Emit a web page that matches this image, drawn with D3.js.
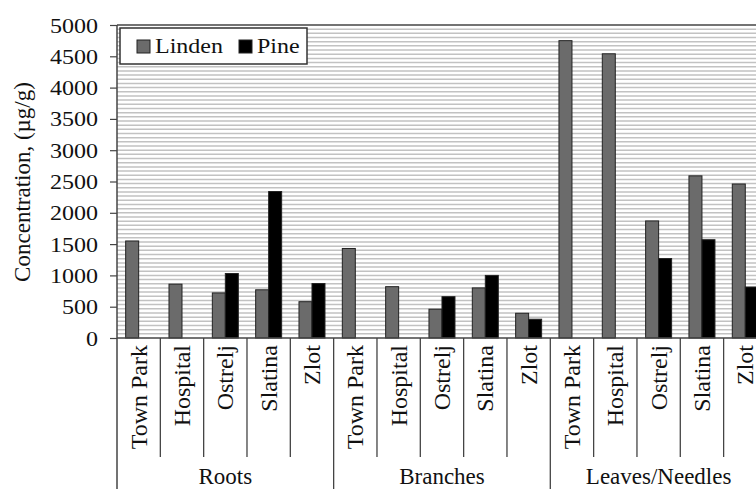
<!DOCTYPE html>
<html>
<head>
<meta charset="utf-8">
<script src="https://cdn.jsdelivr.net/npm/d3@7"></script>
<style>
  html, body { margin: 0; padding: 0; background: #fff; overflow: hidden; }
  svg { display: block; }
  text { font-family: "Liberation Serif", "Times New Roman", serif; fill: #111; }
</style>
</head>
<body>
<svg id="chart" width="756" height="489"></svg>
<script>
// ---- data ----
const groups = ["Roots", "Branches", "Leaves/Needles"];
const sites = ["Town Park", "Hospital", "Ostrelj", "Slatina", "Zlot"];
const series = ["Linden", "Pine"];
const lindenValues = [1550, 860, 720, 770, 580,   1430, 820, 460, 800, 395,   4750, 4540, 1870, 2590, 2460];
const pineValues   = [0, 0, 1030, 2340, 870,      0, 0, 660, 1000, 300,      0, 0, 1270, 1570, 815];
const yTicks = [0, 500, 1000, 1500, 2000, 2500, 3000, 3500, 4000, 4500, 5000];

const colors = { Linden: "#6b6b6b", Pine: "#000000" };

const svg = d3.select("#chart");
const plotLeft = 117, plotTop = 25, plotBottom = 338;
const catW = 43.33;
const plotRight = plotLeft + catW * groups.length * sites.length;

const cats = [];
groups.forEach((g, gi) => sites.forEach((s, si) => {
  const i = gi * sites.length + si;
  cats.push({ key: g + "|" + s, group: g, site: s, Linden: lindenValues[i], Pine: pineValues[i] });
}));

const x = d3.scaleBand().domain(cats.map(d => d.key)).range([plotLeft, plotRight]).padding(0);
const xs = d3.scaleBand().domain(series).range([x.bandwidth() * 0.2, x.bandwidth() * 0.8]).padding(0);
const y = d3.scaleLinear().domain([0, 5000]).range([plotBottom, plotTop]);

// gridlines
const gridVals = d3.range(1, 75).map(i => i * 5000 / 75);
svg.append("g").selectAll("line").data(gridVals).join("line")
  .attr("x1", plotLeft).attr("x2", plotRight)
  .attr("y1", d => y(d)).attr("y2", d => y(d))
  .attr("stroke", "#c2c2c2").attr("stroke-width", 1.5);

// top border
svg.append("line").attr("x1", plotLeft).attr("x2", plotRight).attr("y1", plotTop).attr("y2", plotTop)
  .attr("stroke", "#444").attr("stroke-width", 1.5);

// bars
const cg = svg.append("g").selectAll("g").data(cats).join("g")
  .attr("transform", d => `translate(${x(d.key)},0)`);
cg.selectAll("rect").data(d => series.map(s => ({ s, v: d[s] })).filter(e => e.v > 0)).join("rect")
  .attr("x", e => xs(e.s))
  .attr("width", xs.bandwidth())
  .attr("y", e => y(e.v))
  .attr("height", e => y(0) - y(e.v))
  .attr("fill", e => colors[e.s])
  .attr("stroke", "#222").attr("stroke-width", 1);

// y axis
const yAxis = d3.axisLeft(y).tickValues(yTicks).tickSize(7).tickSizeOuter(0).tickPadding(0).tickFormat(d3.format("d"));
const ya = svg.append("g").attr("transform", `translate(${plotLeft},0)`).call(yAxis);
ya.select(".domain").remove();
ya.selectAll(".tick line").attr("stroke", "#444").attr("stroke-width", 1.2);
ya.selectAll(".tick text").remove();
ya.selectAll(".tick").append("text")
  .attr("text-anchor", "end")
  .attr("transform", "translate(-19,7) scale(1.2,1)")
  .attr("font-size", 20)
  .attr("fill", "#111")
  .text(d => d);

svg.append("line").attr("x1", plotLeft).attr("x2", plotLeft).attr("y1", plotTop).attr("y2", 489)
  .attr("stroke", "#444").attr("stroke-width", 1.5);

// x axis line
svg.append("line").attr("x1", plotLeft).attr("x2", plotRight).attr("y1", plotBottom).attr("y2", plotBottom)
  .attr("stroke", "#444").attr("stroke-width", 1.5);

// category dividers
cats.forEach((d, i) => {
  if (i === 0) return;
  const isGroup = i % sites.length === 0;
  svg.append("line")
    .attr("x1", x(d.key)).attr("x2", x(d.key))
    .attr("y1", plotBottom).attr("y2", isGroup ? 489 : 457)
    .attr("stroke", "#444").attr("stroke-width", 1.3);
});
svg.append("line").attr("x1", plotRight).attr("x2", plotRight).attr("y1", plotBottom).attr("y2", 489)
  .attr("stroke", "#444").attr("stroke-width", 1.3);

// category labels
svg.append("g").selectAll("text").data(cats).join("text")
  .attr("transform", d => `translate(${x(d.key) + x.bandwidth() / 2 + 8},345) rotate(-90)`)
  .attr("text-anchor", "end")
  .attr("font-size", 24)
  .text(d => d.site);

// group labels
const gx = d3.scaleBand().domain(groups).range([plotLeft, plotRight]);
svg.append("g").selectAll("text").data(groups).join("text")
  .attr("x", d => gx(d) + gx.bandwidth() / 2)
  .attr("y", 484)
  .attr("text-anchor", "middle")
  .attr("font-size", 23)
  .text(d => d);

// y title
svg.append("text")
  .attr("transform", "translate(30,182) rotate(-90)")
  .attr("text-anchor", "middle")
  .attr("font-size", 23)
  .text("Concentration, (µg/g)");

// legend
const lg = svg.append("g");
lg.append("rect").attr("x", 120).attr("y", 28).attr("width", 187).attr("height", 36)
  .attr("fill", "#fff").attr("stroke", "#333").attr("stroke-width", 1.5);
const legendX = { Linden: 137, Pine: 239 };
series.forEach(s => {
  lg.append("rect").attr("x", legendX[s]).attr("y", 40).attr("width", 13).attr("height", 13)
    .attr("fill", colors[s]).attr("stroke", "#222").attr("stroke-width", 1);
  lg.append("text")
    .attr("transform", `translate(${legendX[s] + 18},53) scale(1.2,1)`)
    .attr("font-size", 20)
    .text(s);
});
</script>
</body>
</html>
